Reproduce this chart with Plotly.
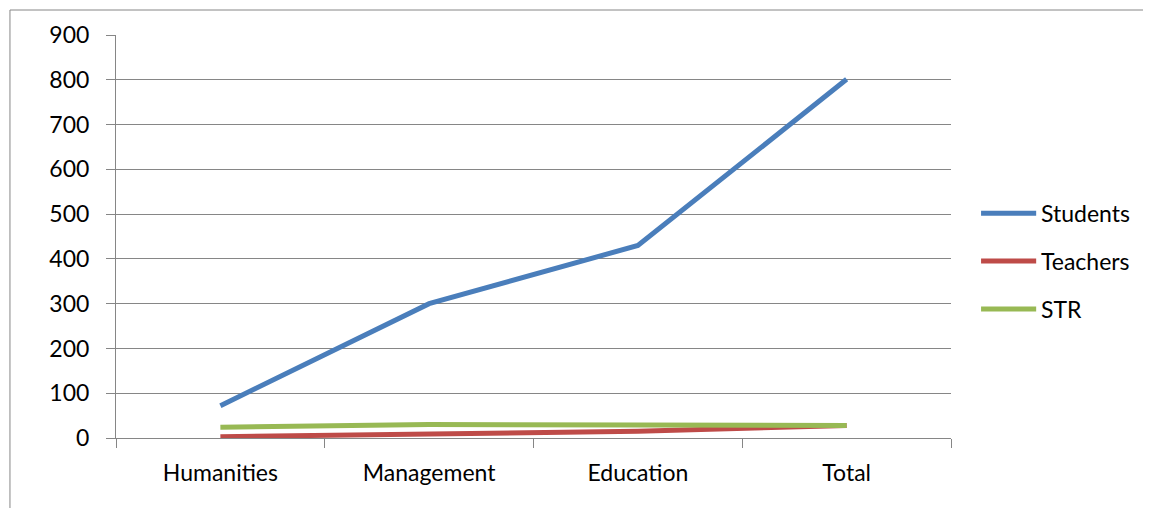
import plotly.graph_objects as go

categories = ["Humanities", "Management", "Education", "Total"]
students = [72, 300, 430, 801]
teachers = [3, 9, 15, 28]
str_ratio = [24, 30, 29, 28]

series = [
    ("Students", students, "#4a7ebb"),
    ("Teachers", teachers, "#be4b48"),
    ("STR", str_ratio, "#98b954"),
]

font = dict(family="Lato, Carlito, Calibri, sans-serif", size=23, color="#000000")

fig = go.Figure()
border = dict(color="#868686", width=1)
shapes = [
    dict(type="line", xref="paper", yref="paper",
         x0=-0.127, x1=1.6, y0=1.062, y1=1.062, line=border, layer="below"),
    dict(type="line", xref="paper", yref="paper",
         x0=-0.127, x1=-0.127, y0=-0.4, y1=1.062, line=border, layer="below"),
]
annotations = []
legend_y = [0.558, 0.439, 0.320]
for i, (name, vals, color) in enumerate(series):
    fig.add_trace(go.Scatter(
        x=categories, y=vals, name=name, mode="lines",
        line=dict(color=color, width=5), showlegend=False,
    ))
    shapes.append(dict(
        type="line", xref="paper", yref="paper",
        x0=1.036, x1=1.102, y0=legend_y[i], y1=legend_y[i],
        line=dict(color=color, width=5),
    ))
    annotations.append(dict(
        xref="paper", yref="paper", x=1.105, y=legend_y[i],
        xanchor="left", yanchor="middle", text=name, showarrow=False,
        font=font,
    ))

fig.update_layout(
    width=1143, height=500,
    margin=dict(l=108, r=200, t=27, b=70, autoexpand=False),
    paper_bgcolor="white", plot_bgcolor="white",
    font=font,
    showlegend=False,
    xaxis=dict(
        type="category", showgrid=False, range=[-0.5, 3.5], automargin=False,
        showline=True, linecolor="#868686", linewidth=1,
        ticks="outside", tickson="boundaries", ticklen=9, tickcolor="#868686",
        ticklabelstandoff=14, tickfont=font,
    ),
    yaxis=dict(
        range=[0, 900], dtick=100, tick0=0, automargin=False,
        showgrid=True, gridcolor="#868686", gridwidth=1,
        showline=True, linecolor="#868686", linewidth=1,
        ticks="outside", ticklen=9, tickcolor="#868686",
        zeroline=False, tickfont=font, ticklabelstandoff=12,
    ),
    shapes=shapes,
    annotations=annotations,
)

fig.write_html("out.html")
